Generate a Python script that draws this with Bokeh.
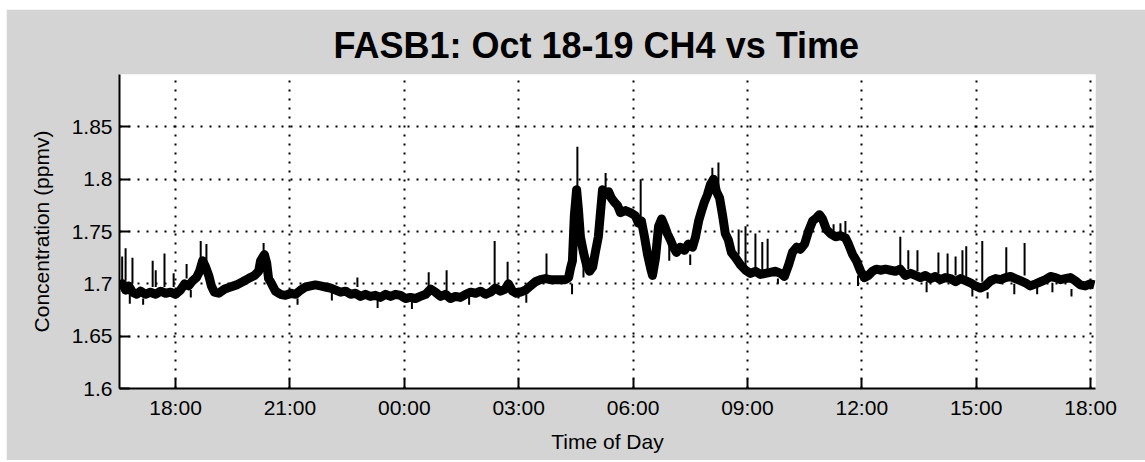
from bokeh.plotting import figure
from bokeh.models import Range1d, FixedTicker
from bokeh.embed import file_html
from bokeh.resources import INLINE

# time in decimal hours from 00:00 Oct 18 (values > 24 are Oct 19)
time_h = [16.53, 16.61, 16.69, 16.77, 16.87, 16.98, 17.08, 17.21, 17.34, 17.48,
          17.61, 17.74, 17.87, 18.00, 18.13, 18.24, 18.34, 18.45, 18.55, 18.63,
          18.71, 18.79, 18.87, 18.94, 19.02, 19.13, 19.29, 19.44, 19.60, 19.76,
          19.91, 20.07, 20.18, 20.23, 20.33, 20.39, 20.44, 20.52, 20.62, 20.75,
          20.88, 21.02, 21.15, 21.28, 21.41, 21.54, 21.67, 21.80, 21.93, 22.06,
          22.20, 22.33, 22.46, 22.59, 22.72, 22.85, 22.98, 23.11, 23.24, 23.37,
          23.51, 23.64, 23.77, 23.90, 24.03, 24.16, 24.29, 24.42, 24.56, 24.69,
          24.82, 24.95, 25.08, 25.21, 25.34, 25.47, 25.61, 25.74, 25.87, 26.00,
          26.13, 26.26, 26.39, 26.52, 26.65, 26.73, 26.84, 26.94, 27.05, 27.18,
          27.31, 27.44, 27.57, 27.70, 27.83, 27.97, 28.10, 28.23, 28.31, 28.36,
          28.41, 28.46, 28.52, 28.57, 28.62, 28.70, 28.78, 28.86, 28.94, 29.01,
          29.09, 29.15, 29.20, 29.28, 29.36, 29.43, 29.51, 29.59, 29.67, 29.80,
          29.93, 30.06, 30.14, 30.22, 30.30, 30.38, 30.46, 30.51, 30.59, 30.67,
          30.75, 30.83, 30.90, 30.98, 31.06, 31.14, 31.24, 31.35, 31.45, 31.56,
          31.64, 31.72, 31.80, 31.87, 31.95, 32.03, 32.11, 32.19, 32.27, 32.35,
          32.42, 32.50, 32.58, 32.69, 32.82, 32.95, 33.08, 33.21, 33.34, 33.47,
          33.60, 33.74, 33.87, 33.97, 34.08, 34.18, 34.29, 34.39, 34.50, 34.60,
          34.71, 34.81, 34.89, 34.97, 35.07, 35.18, 35.31, 35.44, 35.57, 35.65,
          35.76, 35.86, 35.97, 36.07, 36.17, 36.28, 36.38, 36.49, 36.62, 36.75,
          36.88, 37.01, 37.14, 37.28, 37.41, 37.54, 37.67, 37.80, 37.93, 38.06,
          38.19, 38.33, 38.46, 38.59, 38.72, 38.85, 38.98, 39.11, 39.24, 39.38,
          39.51, 39.64, 39.77, 39.90, 40.03, 40.16, 40.29, 40.42, 40.56, 40.69,
          40.82, 40.95, 41.08, 41.21, 41.34, 41.47, 41.60, 41.73, 41.86, 41.99,
          42.10]

ch4_ppmv = [1.697, 1.700, 1.694, 1.698, 1.692, 1.690, 1.693, 1.690, 1.692, 1.690,
            1.693, 1.691, 1.692, 1.690, 1.694, 1.700, 1.698, 1.703, 1.706, 1.712,
            1.722, 1.716, 1.708, 1.698, 1.692, 1.691, 1.695, 1.697, 1.699, 1.702,
            1.705, 1.708, 1.712, 1.722, 1.728, 1.720, 1.705, 1.700, 1.693, 1.690,
            1.689, 1.691, 1.690, 1.694, 1.697, 1.698, 1.699, 1.698, 1.697, 1.696,
            1.694, 1.692, 1.693, 1.690, 1.691, 1.688, 1.690, 1.688, 1.689, 1.687,
            1.690, 1.688, 1.690, 1.689, 1.686, 1.687, 1.686, 1.688, 1.690, 1.695,
            1.692, 1.688, 1.690, 1.686, 1.688, 1.687, 1.690, 1.692, 1.691, 1.693,
            1.690, 1.692, 1.696, 1.693, 1.695, 1.700, 1.693, 1.691, 1.692, 1.694,
            1.698, 1.702, 1.704, 1.705, 1.704, 1.704, 1.704, 1.704, 1.706, 1.715,
            1.722, 1.765, 1.790, 1.770, 1.745, 1.730, 1.718, 1.712, 1.716, 1.730,
            1.745, 1.770, 1.790, 1.785, 1.788, 1.782, 1.778, 1.775, 1.768, 1.770,
            1.768, 1.765, 1.758, 1.760, 1.745, 1.728, 1.715, 1.708, 1.725, 1.755,
            1.762, 1.755, 1.748, 1.742, 1.735, 1.730, 1.735, 1.732, 1.738, 1.735,
            1.745, 1.760, 1.770, 1.778, 1.785, 1.795, 1.800, 1.788, 1.782, 1.765,
            1.748, 1.742, 1.730, 1.725, 1.718, 1.713, 1.710, 1.712, 1.709, 1.710,
            1.711, 1.712, 1.710, 1.707, 1.718, 1.730, 1.735, 1.733, 1.738, 1.750,
            1.760, 1.763, 1.766, 1.762, 1.752, 1.748, 1.745, 1.746, 1.744, 1.738,
            1.728, 1.722, 1.712, 1.706, 1.708, 1.712, 1.714, 1.713, 1.714, 1.713,
            1.712, 1.714, 1.708, 1.710, 1.708, 1.706, 1.708, 1.705, 1.707, 1.704,
            1.706, 1.705, 1.702, 1.705, 1.703, 1.701, 1.698, 1.696, 1.698, 1.703,
            1.705, 1.704, 1.706, 1.707, 1.705, 1.703, 1.701, 1.698, 1.700, 1.702,
            1.704, 1.707, 1.706, 1.704, 1.705, 1.706, 1.703, 1.699, 1.698, 1.700,
            1.699]

# short-lived excursions: time, value where the excursion starts, excursion extreme
spike_t = [16.60, 16.69, 16.80, 16.87, 17.15, 17.40, 17.48, 17.71, 17.95, 18.29,
           18.40, 18.66, 18.81, 20.31, 20.36, 21.20, 22.10, 22.77, 23.30, 24.20,
           24.64, 25.11, 25.70, 26.37, 26.71, 27.20, 27.73, 28.40, 28.54, 28.70,
           29.28, 30.20, 30.95, 31.50, 32.08, 32.24, 32.77, 32.95, 33.21, 33.39,
           33.53, 33.80, 35.26, 35.44, 35.57, 35.90, 37.01, 37.22, 37.46, 37.70,
           38.01, 38.25, 38.46, 38.64, 38.74, 38.90, 39.16, 39.30, 39.79, 40.00,
           40.27, 40.60, 41.00, 41.50]
spike_lo = [1.703, 1.703, 1.690, 1.700, 1.686, 1.697, 1.697, 1.697, 1.697, 1.705,
            1.694, 1.722, 1.718, 1.728, 1.715, 1.686, 1.692, 1.697, 1.684, 1.683,
            1.697, 1.694, 1.688, 1.697, 1.700, 1.690, 1.708, 1.700, 1.790, 1.728,
            1.790, 1.762, 1.736, 1.728, 1.800, 1.790, 1.728, 1.716, 1.716, 1.713,
            1.713, 1.705, 1.750, 1.750, 1.748, 1.708, 1.716, 1.714, 1.712, 1.702,
            1.710, 1.708, 1.708, 1.707, 1.707, 1.697, 1.702, 1.692, 1.710, 1.700,
            1.708, 1.698, 1.701, 1.695]
spike_hi = [1.726, 1.734, 1.681, 1.725, 1.680, 1.722, 1.713, 1.729, 1.710, 1.719,
            1.687, 1.741, 1.738, 1.739, 1.705, 1.680, 1.684, 1.706, 1.677, 1.676,
            1.711, 1.713, 1.680, 1.741, 1.721, 1.682, 1.729, 1.690, 1.831, 1.706,
            1.806, 1.800, 1.722, 1.718, 1.811, 1.816, 1.752, 1.755, 1.748, 1.740,
            1.743, 1.700, 1.757, 1.758, 1.760, 1.698, 1.745, 1.732, 1.732, 1.692,
            1.730, 1.729, 1.726, 1.732, 1.736, 1.688, 1.741, 1.686, 1.735, 1.690,
            1.739, 1.690, 1.692, 1.688]

x_ticks = [18, 21, 24, 27, 30, 33, 36, 39, 42]
x_tick_labels = ["18:00", "21:00", "00:00", "03:00", "06:00", "09:00", "12:00", "15:00", "18:00"]
y_ticks = [1.6, 1.65, 1.7, 1.75, 1.8, 1.85]
y_tick_labels = ["1.6", "1.65", "1.7", "1.75", "1.8", "1.85"]

FONT = "Liberation Sans"
BG = "#d4d4d4"

p = figure(frame_width=976, frame_height=314,
           min_border_left=113, min_border_right=50, min_border_top=65, min_border_bottom=72,
           x_range=Range1d(16.53, 42.13), y_range=Range1d(1.6, 1.9),
           output_backend="svg", toolbar_location=None,
           title="FASB1: Oct 18-19 CH4 vs Time")
p.margin = (9, 0, 0, 6)
p.border_fill_color = BG
p.background_fill_color = "white"
p.outline_line_color = None

p.title.align = "left"
p.title.offset = 214
p.title.text_font = FONT
p.title.text_font_size = "36px"
p.title.text_font_style = "bold"
p.title.text_color = "black"
p.title.standoff = 18

for ax in (p.xaxis[0], p.yaxis[0]):
    ax.axis_line_width = 2
    ax.axis_line_color = "black"
    ax.major_tick_in = 10
    ax.major_tick_out = 0
    ax.major_tick_line_width = 2
    ax.major_tick_line_color = "black"
    ax.minor_tick_line_color = None
    ax.major_label_text_font = FONT
    ax.major_label_text_font_size = "21px"
    ax.major_label_text_color = "black"
    ax.axis_label_text_font = FONT
    ax.axis_label_text_font_size = "21px"
    ax.axis_label_text_font_style = "normal"
    ax.axis_label_text_color = "black"
    ax.major_label_standoff = 7

p.xaxis.ticker = FixedTicker(ticks=x_ticks)
p.xaxis.major_label_overrides = {t: l for t, l in zip(x_ticks, x_tick_labels)}
p.yaxis.ticker = FixedTicker(ticks=y_ticks)
p.yaxis.major_label_overrides = {t: l for t, l in zip(y_ticks, y_tick_labels)}
p.xaxis.axis_label = "Time of Day"
p.yaxis.axis_label = "Concentration (ppmv)"
p.xaxis.axis_label_standoff = 8
p.yaxis.axis_label_standoff = 16

p.xgrid.ticker = FixedTicker(ticks=x_ticks)
p.ygrid.ticker = FixedTicker(ticks=y_ticks)
for g in (p.xgrid[0], p.ygrid[0]):
    g.grid_line_color = "black"
    g.grid_line_width = 2
    g.grid_line_dash = "2 7"

p.segment(x0=spike_t, y0=spike_lo, x1=spike_t, y1=spike_hi, line_color="black", line_width=2)
p.line(time_h, ch4_ppmv, line_color="black", line_width=9, line_join="round")

open("out.html", "w").write(file_html(p, INLINE))
